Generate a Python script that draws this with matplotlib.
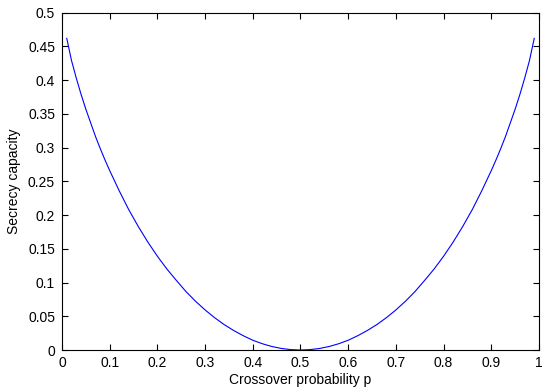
import matplotlib
matplotlib.use("Agg")
import matplotlib.pyplot as plt

# Left half readings (p, secrecy capacity); the curve is symmetric about p = 0.5
p_left = [0.01, 0.02, 0.03, 0.04, 0.05, 0.06, 0.07, 0.08, 0.09, 0.10,
          0.12, 0.14, 0.16, 0.18, 0.20, 0.22, 0.24, 0.26, 0.28, 0.30,
          0.32, 0.34, 0.36, 0.38, 0.40, 0.42, 0.44, 0.46, 0.48, 0.50]
cs_left = [0.462, 0.429, 0.403, 0.379, 0.357, 0.337, 0.317, 0.299, 0.282, 0.266,
           0.236, 0.208, 0.183, 0.160, 0.139, 0.120, 0.103, 0.0866, 0.0723, 0.0594,
           0.0479, 0.0377, 0.0289, 0.0212, 0.0145, 0.0093, 0.0052, 0.0023, 0.0006, 0.0]
p_right = [round(1 - v, 2) for v in reversed(p_left[:-1])]
cs_right = list(reversed(cs_left[:-1]))
p_vals = p_left + p_right
cs_vals = cs_left + cs_right

x_ticks = [0, 0.1, 0.2, 0.3, 0.4, 0.5, 0.6, 0.7, 0.8, 0.9, 1]
x_tick_labels = ["0", "0.1", "0.2", "0.3", "0.4", "0.5", "0.6", "0.7", "0.8", "0.9", "1"]
y_ticks = [0, 0.05, 0.1, 0.15, 0.2, 0.25, 0.3, 0.35, 0.4, 0.45, 0.5]
y_tick_labels = ["0", "0.05", "0.1", "0.15", "0.2", "0.25", "0.3", "0.35", "0.4", "0.45", "0.5"]

plt.rcParams['font.family'] = ['Liberation Sans', 'DejaVu Sans']
fig = plt.figure(figsize=(5.5, 3.92), dpi=100)
ax = fig.add_axes([0.1127, 0.1071, 0.8673, 0.8605])
ax.plot(p_vals, cs_vals, color=(0, 0, 1), linewidth=0.8)
ax.set_xlim(0, 1)
ax.set_ylim(0, 0.5)
ax.set_xticks(x_ticks)
ax.set_xticklabels(x_tick_labels)
ax.set_yticks(y_ticks)
ax.set_yticklabels(y_tick_labels)
ax.tick_params(direction='in', length=4, width=0.8, top=True, right=True,
               labelsize=10, colors='black')
ax.tick_params(axis='x', pad=4.5)
ax.tick_params(axis='y', pad=5)
for s in ax.spines.values():
    s.set_linewidth(0.8)
ax.set_xlabel("Crossover probability p", fontsize=10, labelpad=2)
ax.set_ylabel("Secrecy capacity", fontsize=10, labelpad=5)
fig.savefig("out.png", dpi=100)
